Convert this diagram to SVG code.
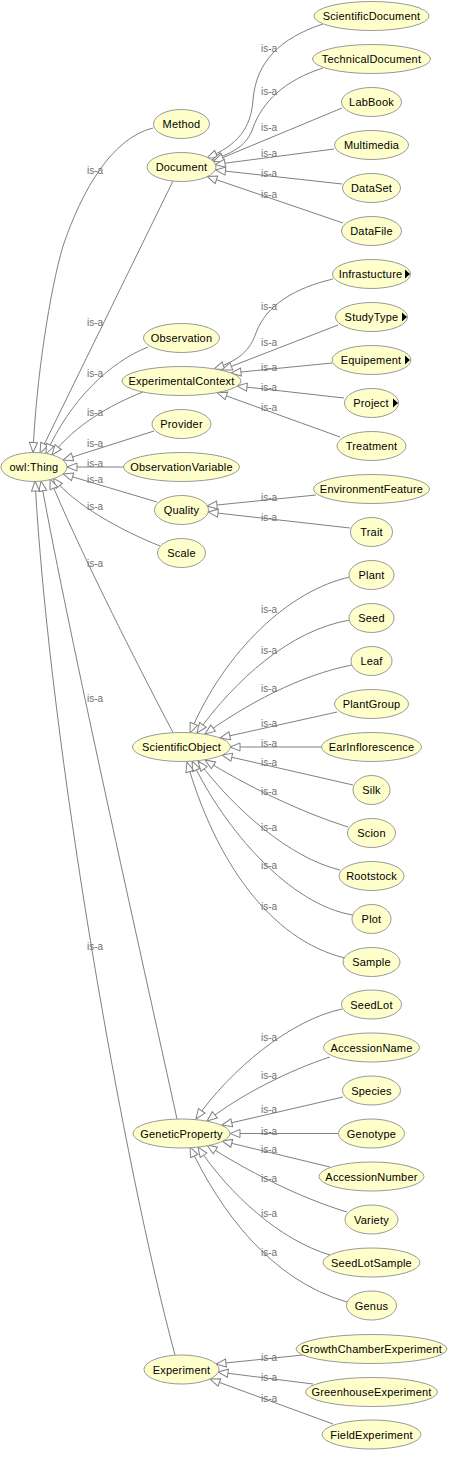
<svg xmlns="http://www.w3.org/2000/svg" width="456" height="1458" viewBox="0 0 456 1458">
<style>
.n ellipse{fill:#ffffcc;stroke:#999999;stroke-width:1}
.n text{font-family:"Liberation Sans",Arial,sans-serif;font-size:11px;text-anchor:middle;fill:#000;letter-spacing:0.2px}
.n path{fill:#000;stroke:none}
.e path{fill:none;stroke:#808080;stroke-width:1;marker-end:url(#arr)}
.e text{font-family:"Liberation Sans",Arial,sans-serif;font-size:10px;fill:#707070}
</style>
<defs>
<marker id="arr" markerUnits="userSpaceOnUse" markerWidth="12" markerHeight="10" viewBox="0 0 12 10" refX="11" refY="5" orient="auto">
<path d="M1,1 L11,5 L1,9 Z" fill="#fff" stroke="#808080" stroke-width="1"/>
</marker>
</defs>
<rect width="456" height="1458" fill="#fff"/>
<g id="connectors" class="e">
<path d="M323,24 C280,38 256,62 253,100 C251,128 238,145 207,158"/>
<path d="M323,68 C285,80 262,102 253,128 C247,145 235,152 212,160"/>
<path d="M342,108 L213.5,161.5"/>
<path d="M334,149 L215,164.5"/>
<path d="M342,184 L215.5,170"/>
<path d="M343,223 L207,176.5"/>
<path d="M153,128 C112,138 82,190 63,246 C50,290 36,380 33,452.5"/>
<path d="M173,181 L40,453"/>
<path d="M148,347 C110,362 70,400 46,454"/>
<path d="M143,392 C110,405 75,425 52,455"/>
<path d="M154,431 L63,460"/>
<path d="M123.5,467 L67,467"/>
<path d="M157,502 L63,474"/>
<path d="M160,546 C120,530 75,505 53,478"/>
<path d="M173,732.5 C128,647 75,540 50,479"/>
<path d="M177,1119 C140,950 70,640 41,481"/>
<path d="M175,1355 C125,1170 50,750 35,481"/>
<path d="M333,279 C295,288 266,305 256,333 C250,350 240,360 214,369"/>
<path d="M338,325 L222,370"/>
<path d="M332,363 L231,373"/>
<path d="M344,398 L237,386"/>
<path d="M340,437 L217,392.5"/>
<path d="M316,495 L207,506"/>
<path d="M350,528 L208,512"/>
<path d="M350,577 C290,590 225,650 190,733"/>
<path d="M350,620 C290,630 235,680 197,733"/>
<path d="M352,665 C300,675 245,705 205,734"/>
<path d="M337,712 L220,738"/>
<path d="M321.5,747 L230,747"/>
<path d="M353,785 L222,755"/>
<path d="M348,827 C300,812 245,785 205,760"/>
<path d="M340,870 C290,858 235,810 198,761"/>
<path d="M353,915 C290,905 225,830 192,761"/>
<path d="M345,958 C270,940 215,860 187,762"/>
<path d="M342,1009 C290,1020 230,1070 196,1119"/>
<path d="M330,1057 C290,1070 240,1095 207,1121"/>
<path d="M343,1097 L222,1125"/>
<path d="M338,1133.5 L230,1133.5"/>
<path d="M330,1167 L222,1141"/>
<path d="M347,1212 C300,1198 245,1170 207,1145"/>
<path d="M330,1255 C280,1240 230,1195 198,1147"/>
<path d="M347,1302 C270,1280 220,1210 190,1147"/>
<path d="M303,1355 L216,1364"/>
<path d="M313,1384 L218,1372"/>
<path d="M333,1424 L210,1379"/>
<text x="261" y="52">is-a</text>
<text x="261" y="95">is-a</text>
<text x="261" y="131">is-a</text>
<text x="261" y="157">is-a</text>
<text x="261" y="177">is-a</text>
<text x="261" y="198">is-a</text>
<text x="87" y="174">is-a</text>
<text x="87" y="326">is-a</text>
<text x="87" y="377">is-a</text>
<text x="87" y="416">is-a</text>
<text x="87" y="447">is-a</text>
<text x="87" y="467">is-a</text>
<text x="87" y="483">is-a</text>
<text x="87" y="510">is-a</text>
<text x="87" y="567">is-a</text>
<text x="87" y="702">is-a</text>
<text x="87" y="950">is-a</text>
<text x="261" y="310">is-a</text>
<text x="261" y="346">is-a</text>
<text x="261" y="371">is-a</text>
<text x="261" y="391">is-a</text>
<text x="261" y="411">is-a</text>
<text x="261" y="501">is-a</text>
<text x="261" y="521">is-a</text>
<text x="261" y="613">is-a</text>
<text x="261" y="654">is-a</text>
<text x="261" y="692">is-a</text>
<text x="261" y="727">is-a</text>
<text x="261" y="747">is-a</text>
<text x="261" y="766">is-a</text>
<text x="261" y="795">is-a</text>
<text x="261" y="831">is-a</text>
<text x="261" y="869">is-a</text>
<text x="261" y="910">is-a</text>
<text x="261" y="1041">is-a</text>
<text x="261" y="1079">is-a</text>
<text x="261" y="1113">is-a</text>
<text x="261" y="1135">is-a</text>
<text x="261" y="1153">is-a</text>
<text x="261" y="1182">is-a</text>
<text x="261" y="1217">is-a</text>
<text x="261" y="1256">is-a</text>
<text x="261" y="1361">is-a</text>
<text x="261" y="1381">is-a</text>
<text x="261" y="1402">is-a</text>
</g>
<g id="owlThing" class="n"><ellipse cx="34" cy="467" rx="33" ry="14.5"/><text x="34" y="471">owl:Thing</text></g>
<g id="Method" class="n"><ellipse cx="181.5" cy="124" rx="28" ry="14.5"/><text x="181.5" y="128">Method</text></g>
<g id="Document" class="n"><ellipse cx="181.5" cy="167" rx="34.5" ry="14.5"/><text x="181.5" y="171">Document</text></g>
<g id="ScientificDocument" class="n"><ellipse cx="371.5" cy="16" rx="57.5" ry="14.5"/><text x="371.5" y="20">ScientificDocument</text></g>
<g id="TechnicalDocument" class="n"><ellipse cx="371.5" cy="59" rx="59" ry="14.5"/><text x="371.5" y="63">TechnicalDocument</text></g>
<g id="LabBook" class="n"><ellipse cx="371.5" cy="102" rx="30" ry="14.5"/><text x="371.5" y="106">LabBook</text></g>
<g id="Multimedia" class="n"><ellipse cx="371.5" cy="145" rx="37" ry="14.5"/><text x="371.5" y="149">Multimedia</text></g>
<g id="DataSet" class="n"><ellipse cx="371.5" cy="188" rx="29" ry="14.5"/><text x="371.5" y="192">DataSet</text></g>
<g id="DataFile" class="n"><ellipse cx="371.5" cy="231" rx="30" ry="14.5"/><text x="371.5" y="235">DataFile</text></g>
<g id="Observation" class="n"><ellipse cx="181.5" cy="338" rx="38" ry="14.5"/><text x="181.5" y="342">Observation</text></g>
<g id="ExperimentalContext" class="n"><ellipse cx="181.5" cy="381" rx="59.5" ry="14.5"/><text x="181.5" y="385">ExperimentalContext</text></g>
<g id="Provider" class="n"><ellipse cx="181.5" cy="424" rx="29.5" ry="14.5"/><text x="181.5" y="428">Provider</text></g>
<g id="ObservationVariable" class="n"><ellipse cx="181.5" cy="467" rx="58" ry="14.5"/><text x="181.5" y="471">ObservationVariable</text></g>
<g id="Quality" class="n"><ellipse cx="181.5" cy="510" rx="27" ry="14.5"/><text x="181.5" y="514">Quality</text></g>
<g id="Scale" class="n"><ellipse cx="181.5" cy="553" rx="24" ry="14.5"/><text x="181.5" y="557">Scale</text></g>
<g id="Infrastucture" class="n"><ellipse cx="371.5" cy="274" rx="39" ry="14.5"/><text x="370.5" y="278">Infrastucture</text><path d="M405,269.5 L410,274 L405,278.5 Z"/></g>
<g id="StudyType" class="n"><ellipse cx="371.5" cy="317" rx="36" ry="14.5"/><text x="371.5" y="321">StudyType</text><path d="M402,312.5 L407,317 L402,321.5 Z"/></g>
<g id="Equipement" class="n"><ellipse cx="371.5" cy="360" rx="39.5" ry="14.5"/><text x="371" y="364">Equipement</text><path d="M405,355.5 L410,360 L405,364.5 Z"/></g>
<g id="Project" class="n"><ellipse cx="371.5" cy="403" rx="27" ry="14.5"/><text x="371" y="407">Project</text><path d="M393,398.5 L398,403 L393,407.5 Z"/></g>
<g id="Treatment" class="n"><ellipse cx="371.5" cy="446" rx="34.5" ry="14.5"/><text x="371.5" y="450">Treatment</text></g>
<g id="EnvironmentFeature" class="n"><ellipse cx="371.5" cy="489" rx="58" ry="14.5"/><text x="371.5" y="493">EnvironmentFeature</text></g>
<g id="Trait" class="n"><ellipse cx="371.5" cy="532" rx="21" ry="14.5"/><text x="371.5" y="536">Trait</text></g>
<g id="Plant" class="n"><ellipse cx="371.5" cy="575" rx="22.5" ry="14.5"/><text x="371.5" y="579">Plant</text></g>
<g id="Seed" class="n"><ellipse cx="371.5" cy="618" rx="22.5" ry="14.5"/><text x="371.5" y="622">Seed</text></g>
<g id="Leaf" class="n"><ellipse cx="371.5" cy="661" rx="20.5" ry="14.5"/><text x="371.5" y="665">Leaf</text></g>
<g id="PlantGroup" class="n"><ellipse cx="371.5" cy="704" rx="37" ry="14.5"/><text x="371.5" y="708">PlantGroup</text></g>
<g id="EarInflorescence" class="n"><ellipse cx="371.5" cy="747" rx="50" ry="14.5"/><text x="371.5" y="751">EarInflorescence</text></g>
<g id="Silk" class="n"><ellipse cx="371.5" cy="790" rx="18.5" ry="14.5"/><text x="371.5" y="794">Silk</text></g>
<g id="Scion" class="n"><ellipse cx="371.5" cy="833" rx="24" ry="14.5"/><text x="371.5" y="837">Scion</text></g>
<g id="Rootstock" class="n"><ellipse cx="371.5" cy="876" rx="32.5" ry="14.5"/><text x="371.5" y="880">Rootstock</text></g>
<g id="Plot" class="n"><ellipse cx="371.5" cy="919" rx="19.5" ry="14.5"/><text x="371.5" y="923">Plot</text></g>
<g id="Sample" class="n"><ellipse cx="371.5" cy="962" rx="28.5" ry="14.5"/><text x="371.5" y="966">Sample</text></g>
<g id="ScientificObject" class="n"><ellipse cx="181.5" cy="747" rx="49" ry="14.5"/><text x="181.5" y="751">ScientificObject</text></g>
<g id="SeedLot" class="n"><ellipse cx="371.5" cy="1004.5" rx="30" ry="14.5"/><text x="371.5" y="1008.5">SeedLot</text></g>
<g id="AccessionName" class="n"><ellipse cx="371.5" cy="1047.5" rx="48" ry="14.5"/><text x="371.5" y="1051.5">AccessionName</text></g>
<g id="Species" class="n"><ellipse cx="371.5" cy="1090.5" rx="29" ry="14.5"/><text x="371.5" y="1094.5">Species</text></g>
<g id="Genotype" class="n"><ellipse cx="371.5" cy="1133.5" rx="33" ry="14.5"/><text x="371.5" y="1137.5">Genotype</text></g>
<g id="AccessionNumber" class="n"><ellipse cx="371.5" cy="1176.5" rx="52.5" ry="14.5"/><text x="371.5" y="1180.5">AccessionNumber</text></g>
<g id="Variety" class="n"><ellipse cx="371.5" cy="1219.5" rx="26.5" ry="14.5"/><text x="371.5" y="1223.5">Variety</text></g>
<g id="SeedLotSample" class="n"><ellipse cx="371.5" cy="1262.5" rx="48.5" ry="14.5"/><text x="371.5" y="1266.5">SeedLotSample</text></g>
<g id="Genus" class="n"><ellipse cx="371.5" cy="1305.5" rx="25" ry="14.5"/><text x="371.5" y="1309.5">Genus</text></g>
<g id="GeneticProperty" class="n"><ellipse cx="181.5" cy="1133.5" rx="48.5" ry="14.5"/><text x="181.5" y="1137.5">GeneticProperty</text></g>
<g id="GrowthChamberExperiment" class="n"><ellipse cx="371.5" cy="1349" rx="75.5" ry="14.5"/><text x="371.5" y="1353">GrowthChamberExperiment</text></g>
<g id="GreenhouseExperiment" class="n"><ellipse cx="371.5" cy="1392" rx="66" ry="14.5"/><text x="371.5" y="1396">GreenhouseExperiment</text></g>
<g id="FieldExperiment" class="n"><ellipse cx="371.5" cy="1434.5" rx="49.5" ry="14.5"/><text x="371.5" y="1438.5">FieldExperiment</text></g>
<g id="Experiment" class="n"><ellipse cx="181.5" cy="1369.5" rx="37.5" ry="14.5"/><text x="181.5" y="1373.5">Experiment</text></g>
</svg>
